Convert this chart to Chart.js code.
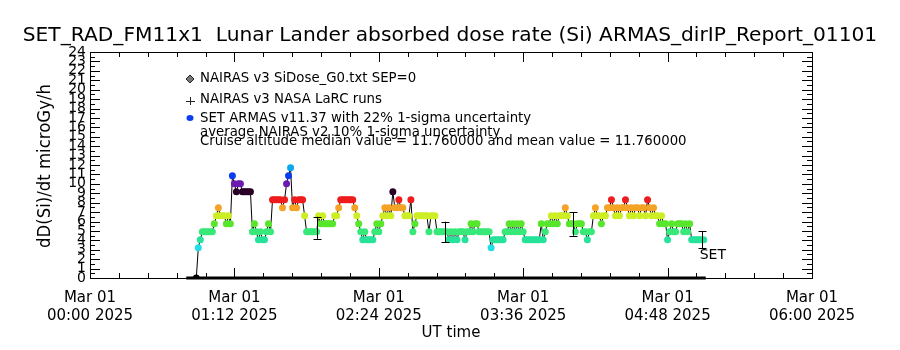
<!DOCTYPE html>
<html>
<head>
<meta charset="utf-8">
<script src="https://cdn.jsdelivr.net/npm/chart.js@4.4.1/dist/chart.umd.min.js"></script>
<style>
  html, body { margin: 0; padding: 0; background: #fff; }
</style>
</head>
<body>
<canvas id="c" width="900" height="350"></canvas>
<script>
// ---- data ----
var titleText = 'SET_RAD_FM11x1  Lunar Lander absorbed dose rate (Si) ARMAS_dirIP_Report_01101';
var yTitle = 'dD(Si)/dt microGy/h';
var xTitle = 'UT time';
var xTickMinutes = [0, 72, 144, 216, 288, 360];   // minutes after 00:00 UT
var xTickDay = 'Mar 01';
var xTickYear = '2025';
var yTicks = [0, 1, 2, 3, 4, 5, 6, 7, 8, 9, 10, 11, 12, 13, 14, 15, 16, 17, 18, 19, 20, 21, 22, 23, 24];

var legendLines = [
  'NAIRAS v3 SiDose_G0.txt SEP=0',
  'NAIRAS v3 NASA LaRC runs',
  'SET ARMAS v11.37 with 22% 1-sigma uncertainty',
  'average NAIRAS v2 10% 1-sigma uncertainty',
  'Cruise altitude median value = 11.760000 and mean value = 11.760000'
];

// NAIRAS v3 SiDose (SEP=0) - flat at zero over the flight
var nairasMinutes = [48, 307];
var nairasValues = [0, 0];

// SET ARMAS dose rate, one sample per minute starting at minute 53
var armasStartMin = 53;
var armasValues = [
  0, 3.2, 4.05, 4.9, 4.9, 4.9, 4.9, 4.9, 4.9, 5.75,
  6.6, 7.45, 6.6, 6.6, 6.6, 5.75, 6.6, 5.75, 10.85, 10.0,
  9.15, 10.0, 10.0, 9.15, 9.15, 9.15, 9.15, 9.15, 4.9, 5.75,
  4.9, 4.05, 4.9, 4.05, 4.05, 4.9, 5.75, 4.9, 8.3, 8.3,
  8.3, 8.3, 8.3, 7.45, 8.3, 10.0, 10.85, 11.7, 7.45, 8.3,
  7.45, 8.3, 8.3, 8.3, 6.6, 4.9, 4.9, 4.9, 4.9, 4.9,
  4.9, 6.6, 5.75, 6.6, 5.75, 5.75, 5.75, 5.75, 5.75, 6.6,
  6.6, 7.45, 8.3, 8.3, 8.3, 8.3, 8.3, 8.3, 8.3, 7.45,
  6.6, 5.75, 4.9, 4.05, 4.9, 4.05, 4.05, 4.05, 4.05, 4.9,
  5.75, 4.9, 5.75, 6.6, 7.45, 6.6, 7.45, 6.6, 9.15, 7.45,
  7.45, 8.3, 7.45, 7.45, 6.6, 6.6, 6.6, 8.3, 4.9, 5.75,
  6.6, 6.6, 6.6, 6.6, 6.6, 6.6, 4.9, 6.6, 6.6, 6.6,
  4.9, 4.9, 4.9, 4.9, 4.9, 4.9, 4.05, 4.9, 4.05, 4.9,
  4.05, 4.9, 4.9, 4.9, 4.05, 4.9, 4.9, 5.75, 4.9, 5.75,
  5.75, 4.9, 4.9, 4.9, 4.9, 4.9, 4.9, 3.2, 4.05, 4.05,
  4.05, 4.05, 4.05, 4.05, 4.9, 4.9, 5.75, 4.9, 5.75, 4.9,
  5.75, 4.9, 5.75, 4.9, 4.05, 4.05, 4.05, 4.05, 4.05, 4.05,
  4.05, 4.05, 5.75, 4.05, 4.9, 5.75, 5.75, 6.6, 5.75, 6.6,
  5.75, 6.6, 6.6, 6.6, 7.45, 6.6, 5.75, 5.75, 5.75, 4.9,
  5.75, 5.75, 5.75, 4.9, 4.9, 4.05, 4.9, 4.9, 6.6, 7.45,
  6.6, 6.6, 5.75, 6.6, 6.6, 7.45, 7.45, 8.3, 7.45, 6.6,
  7.45, 6.6, 7.45, 7.45, 8.3, 7.45, 6.6, 7.45, 6.6, 7.45,
  7.45, 6.6, 7.45, 7.45, 6.6, 8.3, 7.45, 6.6, 7.45, 6.6,
  6.6, 5.75, 6.6, 5.75, 5.75, 4.05, 4.9, 5.75, 4.9, 4.9,
  5.75, 5.75, 5.75, 4.9, 5.75, 4.9, 5.75, 4.05, 4.05, 4.05,
  4.05, 4.05, 4.05, 4.05
];

// 22% 1-sigma error bars on ARMAS
var errMinutes = [113, 177, 241, 305];
var errCenters = [5.33, 4.9, 5.75, 4.05];
var errFraction = 0.22;
var setLabel = 'SET';

// ---- style ----
var levelColors = [
  [0, '#000000'], [3.2, '#22dce6'], [4.05, '#26e29a'], [4.9, '#38e878'],
  [5.75, '#58e62c'], [6.6, '#cdee24'], [7.45, '#f5a326'], [8.3, '#ee1c1c'],
  [9.15, '#2a0026'], [10.0, '#6a1ab0'], [10.85, '#0a3cf0'], [11.7, '#0aa8ee']
];
function colorFor(v) {
  var best = levelColors[0];
  levelColors.forEach(function (c) {
    if (Math.abs(c[0] - v) < Math.abs(best[0] - v)) best = c;
  });
  return best[1];
}
function hhmm(m) {
  var h = Math.floor(m / 60), mm = Math.round(m % 60);
  return (h < 10 ? '0' : '') + h + ':' + (mm < 10 ? '0' : '') + mm;
}

var armasPoints = armasValues.map(function (v, i) { return { x: armasStartMin + i, y: v }; });
var nairasPoints = nairasValues.map(function (v, i) { return { x: nairasMinutes[i], y: v }; });

var FONT = '"DejaVu Sans", sans-serif';

var idlFrame = {
  id: 'idlFrame',
  afterDatasetsDraw: function (chart) {
    var ctx = chart.ctx, a = chart.chartArea, xs = chart.scales.x, ys = chart.scales.y;
    ctx.save();
    ctx.strokeStyle = '#000';
    ctx.lineWidth = 1;
    // error bars
    ctx.beginPath();
    errMinutes.forEach(function (m, i) {
      var px = Math.round(xs.getPixelForValue(m)) + 0.5;
      var lo = ys.getPixelForValue(errCenters[i] * (1 - errFraction));
      var hi = ys.getPixelForValue(errCenters[i] * (1 + errFraction));
      ctx.moveTo(px, hi); ctx.lineTo(px, lo);
      ctx.moveTo(px - 4, Math.round(hi) + 0.5); ctx.lineTo(px + 4, Math.round(hi) + 0.5);
      ctx.moveTo(px - 4, Math.round(lo) + 0.5); ctx.lineTo(px + 4, Math.round(lo) + 0.5);
    });
    ctx.stroke();
    // box
    ctx.strokeRect(Math.round(a.left) + 0.5, Math.round(a.top) + 0.5, Math.round(a.right - a.left), Math.round(a.bottom - a.top));
    // inward ticks
    ctx.beginPath();
    for (var k = 0; k <= 48; k++) {
      var v = k / 2;
      var py = Math.round(ys.getPixelForValue(v)) + 0.5;
      var len = (k % 2 === 0) ? 10 : 5;
      ctx.moveTo(a.left, py); ctx.lineTo(a.left + len, py);
      ctx.moveTo(a.right, py); ctx.lineTo(a.right - len, py);
    }
    for (var j = 0; j <= 25; j++) {
      var m = j * 14.4;
      var px = Math.round(xs.getPixelForValue(m)) + 0.5;
      var l = (j % 5 === 0) ? 10 : 5;
      ctx.moveTo(px, a.bottom); ctx.lineTo(px, a.bottom - l);
      ctx.moveTo(px, a.top); ctx.lineTo(px, a.top + l);
    }
    ctx.stroke();
    ctx.restore();
  },
  afterDraw: function (chart) {
    var ctx = chart.ctx, a = chart.chartArea, xs = chart.scales.x, ys = chart.scales.y;
    ctx.save();
    ctx.fillStyle = '#000';
    ctx.textBaseline = 'middle';
    // title
    ctx.font = '20.2px ' + FONT;
    ctx.textAlign = 'center';
    ctx.fillText(titleText, 450, 36, 856);
    // x title
    ctx.font = '15px ' + FONT;
    ctx.fillText(xTitle, (a.left + a.right) / 2, 333);
    // y title
    ctx.save();
    ctx.translate(46, 166);
    ctx.rotate(-Math.PI / 2);
    ctx.font = '17px ' + FONT;
    ctx.fillText(yTitle, 0, 0, 164);
    ctx.restore();
    // legend
    ctx.textAlign = 'left';
    ctx.font = '13.3px ' + FONT;
    var ly = [79, 100, 119, 133, 142];
    legendLines.forEach(function (t, i) { ctx.fillText(t, 200, ly[i]); });
    // legend symbols
    ctx.fillStyle = '#777';
    ctx.strokeStyle = '#222';
    ctx.beginPath();
    ctx.moveTo(190, 75); ctx.lineTo(194, 79); ctx.lineTo(190, 83); ctx.lineTo(186, 79); ctx.closePath();
    ctx.fill(); ctx.stroke();
    ctx.beginPath();
    ctx.moveTo(190.5, 97); ctx.lineTo(190.5, 105);
    ctx.moveTo(186, 101.5); ctx.lineTo(195, 101.5);
    ctx.stroke();
    ctx.fillStyle = '#0a3cf0';
    ctx.beginPath();
    ctx.ellipse(190, 118, 3.5, 3, 0, 0, Math.PI * 2);
    ctx.fill();
    // SET label at the last error bar
    ctx.fillStyle = '#000';
    ctx.font = '14px ' + FONT;
    ctx.fillText(setLabel, xs.getPixelForValue(errMinutes[errMinutes.length - 1]) - 2, ys.getPixelForValue(2.4));
    ctx.restore();
  }
};

new Chart(document.getElementById('c'), {
  type: 'line',
  data: {
    datasets: [
      {
        label: 'SET ARMAS',
        data: armasPoints,
        borderColor: '#000',
        borderWidth: 1,
        tension: 0,
        pointRadius: 3.5,
        pointBorderWidth: 0,
        pointBackgroundColor: function (c) { return colorFor(c.raw ? c.raw.y : 0); },
        pointHoverRadius: 3.5
      },
      {
        label: 'NAIRAS v3',
        data: nairasPoints,
        borderColor: '#000',
        borderWidth: 3,
        pointRadius: 0,
        clip: false
      }
    ]
  },
  options: {
    responsive: false,
    animation: false,
    events: [],
    layout: { padding: { top: 52, right: 88, left: 0, bottom: 0 } },
    plugins: { legend: { display: false }, tooltip: { enabled: false }, title: { display: false } },
    scales: {
      x: {
        type: 'linear',
        min: 0,
        max: 360,
        grid: { display: false, drawTicks: false },
        border: { display: false },
        afterBuildTicks: function (s) { s.ticks = xTickMinutes.map(function (m) { return { value: m }; }); },
        afterFit: function (s) { s.height = 72; },
        ticks: {
          autoSkip: false,
          maxRotation: 0,
          padding: 11,
          color: '#000',
          font: { family: FONT, size: 15 },
          callback: function (v) { return [xTickDay, hhmm(v) + ' ' + xTickYear]; }
        }
      },
      y: {
        min: 0,
        max: 24,
        grid: { display: false, drawTicks: false },
        border: { display: false },
        afterBuildTicks: function (s) { s.ticks = yTicks.map(function (v) { return { value: v }; }); },
        afterFit: function (s) { s.width = 90; },
        ticks: {
          autoSkip: false,
          padding: 4,
          color: '#000',
          font: { family: FONT, size: 14 }
        }
      }
    }
  },
  plugins: [idlFrame]
});
</script>
</body>
</html>
